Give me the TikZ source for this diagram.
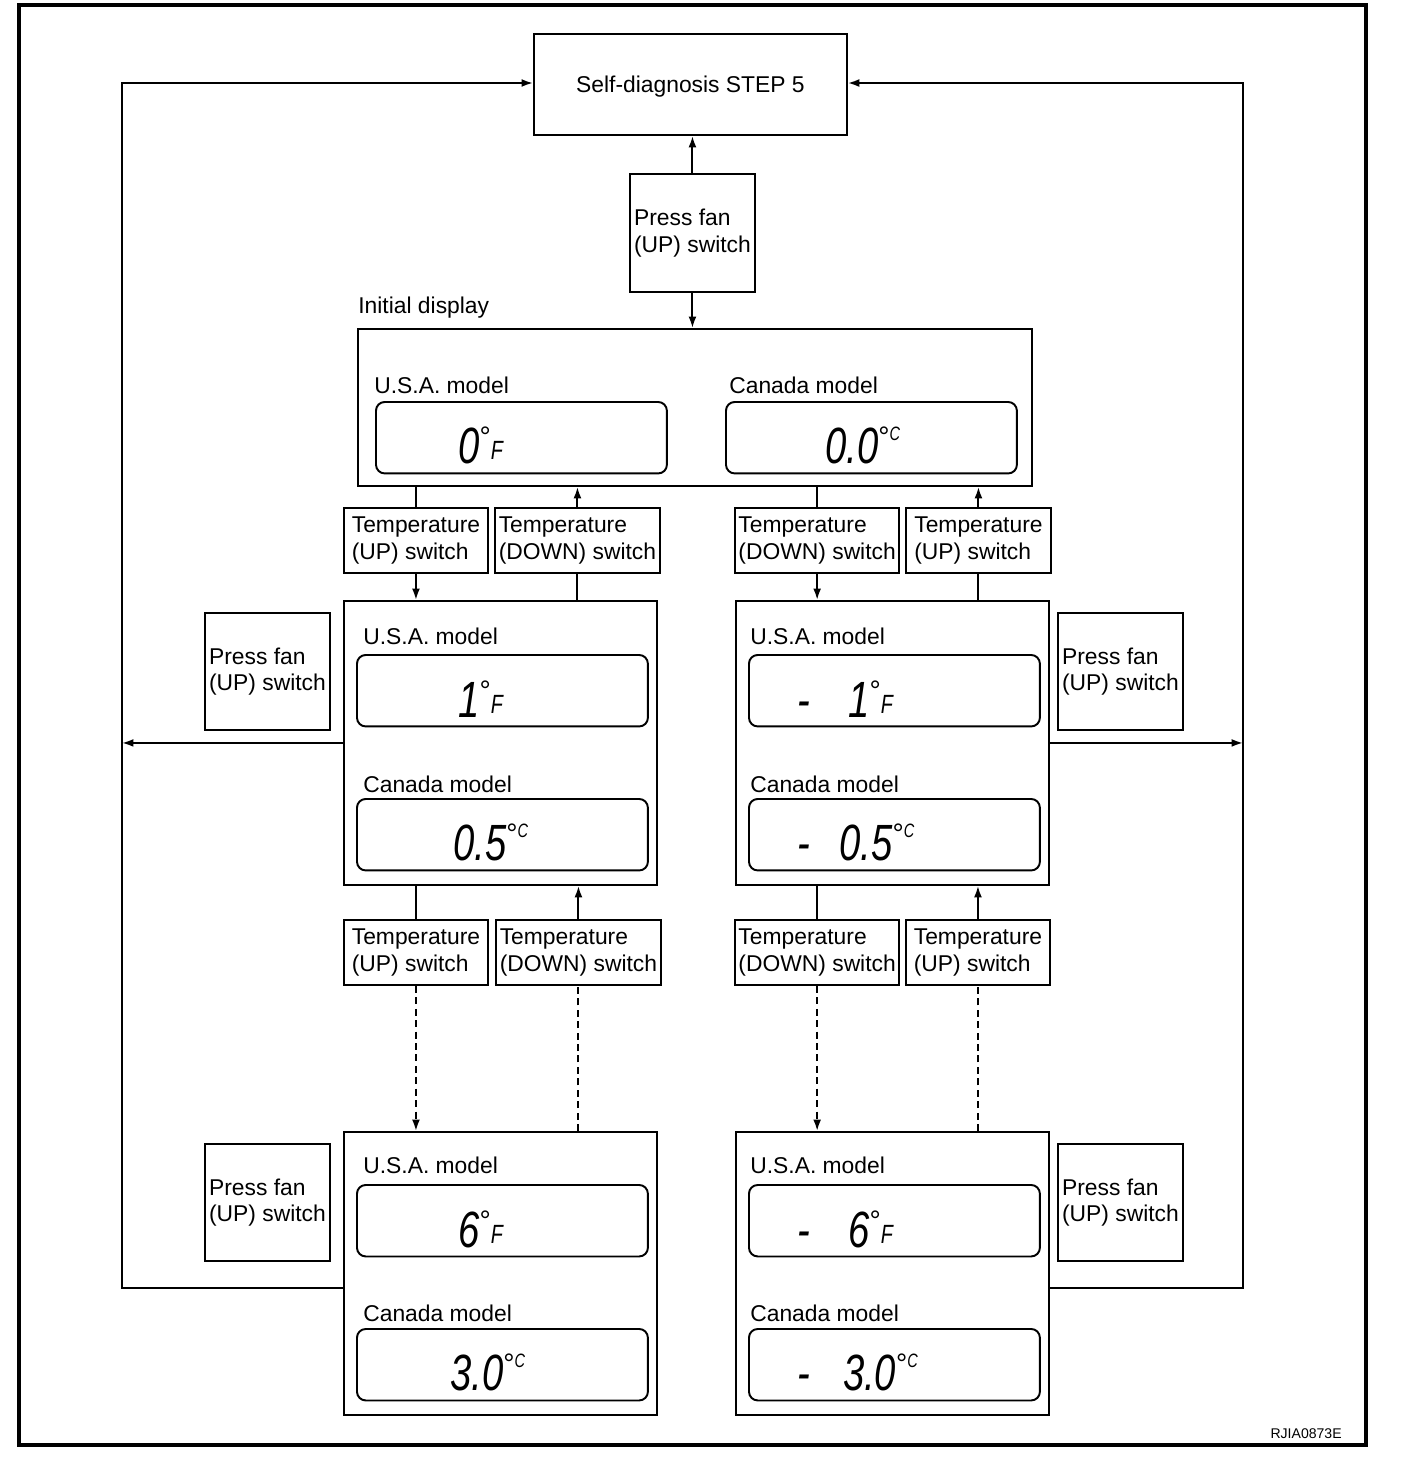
\documentclass[tikz,border=0pt]{standalone}
\usepackage{fontspec}
\setmainfont{Liberation Sans}
\newfontfamily\lcdfont{Liberation Sans}[FakeStretch=0.75]
\newfontfamily\degfont{Liberation Sans}
\usetikzlibrary{arrows.meta,calc,positioning}
\newcommand{\lcdnum}[1]{{\lcdfont\itshape\fontsize{29}{29}\selectfont #1}}
\newcommand{\unitF}{{\raisebox{9.5pt}{\degfont\fontsize{16}{16}\selectfont °}\lcdfont\itshape\raisebox{2pt}{\fontsize{15}{15}\selectfont F}}}
\newcommand{\unitC}{{\raisebox{9.5pt}{\degfont\fontsize{16}{16}\selectfont °}\lcdfont\itshape\raisebox{13pt}{\fontsize{11}{11}\selectfont C}}}
\newcommand{\minus}{\makebox[29pt][l]{\lcdnum{-}}}

\begin{document}
\begin{tikzpicture}[x=0.02cm,y=-0.02cm,
    box/.style={draw,line width=1.1pt,anchor=north west,align=left,inner sep=2pt,
      font=\fontsize{13}{15}\selectfont},
    swbox/.style={box,minimum height=1.3cm},
    fanbox/.style={box,minimum width=2.5cm,minimum height=2.34cm},
    panel/.style={draw,line width=1.1pt,anchor=north west},
    lcdbox/.style={draw,line width=1.1pt,rounded corners=5pt,anchor=north west,
      minimum width=5.82cm,minimum height=1.43cm},
    model/.style={anchor=base west,inner sep=0pt,font=\fontsize{13}{15}\selectfont},
    reading/.style={anchor=base west,inner sep=0pt},
    link/.style={line width=1.1pt},
    arr/.style={link,-{Latex[length=6.5pt,width=4.5pt]}},
    later/.style={dash pattern=on 4pt off 2.5pt}
  ]
  \useasboundingbox (0,0) rectangle (1408,1458);
  \draw[line width=2pt] (19,5) rectangle (1366,1445);

  % top of the loop
  \node[box,align=center,minimum width=6.26cm,minimum height=2.02cm,text depth=-3pt] (selfdiag) at (533,33) {Self-diagnosis STEP 5};
  \node[box,minimum width=2.5cm,minimum height=2.36cm] (fanTop) at (629,173) {Press fan\\(UP) switch};

  % initial display
  \node[model] (initLabel) at (358,313) {Initial display};
  \node[panel,minimum width=13.48cm,minimum height=3.14cm] (init) at (357,328) {};
  \node[model] (initUSlbl) at (374,393) {U.S.A. model};
  \node[lcdbox] (initUS) at (375,401) {};
  \node[reading] (initUSval) at (458,463) {\lcdnum{0}\unitF};
  \node[model] (initCAlbl) at (729,393) {Canada model};
  \node[lcdbox] (initCA) at (725,401) {};
  \node[reading] (initCAval) at (825,463) {\lcdnum{0.0}\unitC};

  % first switch row
  \node[swbox,minimum width=2.88cm] (upA) at (343,507) {Temperature\\(UP) switch};
  \node[swbox,minimum width=3.3cm] (downA) at (494,507) {Temperature\\(DOWN) switch};
  \node[swbox,minimum width=3.26cm] (downB) at (734,507) {Temperature\\(DOWN) switch};
  \node[swbox,minimum width=2.9cm] (upB) at (905,507) {Temperature\\(UP) switch};

  % one step away
  \node[panel,minimum width=6.26cm,minimum height=5.68cm] (midL) at (343,600) {};
  \node[model] (midLUSlbl) at (363,644) {U.S.A. model};
  \node[lcdbox] (midLUS) at (356,654) {};
  \node[reading] (midLUSval) at (458,717) {\lcdnum{1}\unitF};
  \node[model] (midLCAlbl) at (363,792) {Canada model};
  \node[lcdbox] (midLCA) at (356,798) {};
  \node[reading] (midLCAval) at (453,860) {\lcdnum{0.5}\unitC};

  \node[panel,minimum width=6.26cm,minimum height=5.68cm] (midR) at (735,600) {};
  \node[model] (midRUSlbl) at (750,644) {U.S.A. model};
  \node[lcdbox] (midRUS) at (748,654) {};
  \node[reading] (midRUSval) at (797,717) {\minus\lcdnum{1}\unitF};
  \node[model] (midRCAlbl) at (750,792) {Canada model};
  \node[lcdbox] (midRCA) at (748,798) {};
  \node[reading] (midRCAval) at (797,860) {\makebox[24pt][l]{\lcdnum{-}}\lcdnum{0.5}\unitC};

  \node[fanbox] (fanL1) at (204,612) {Press fan\\(UP) switch};
  \node[fanbox] (fanR1) at (1057,612) {Press fan\\(UP) switch};

  % second switch row
  \node[swbox,minimum width=2.88cm] (upC) at (343,919) {Temperature\\(UP) switch};
  \node[swbox,minimum width=3.3cm] (downC) at (495,919) {Temperature\\(DOWN) switch};
  \node[swbox,minimum width=3.26cm] (downD) at (734,919) {Temperature\\(DOWN) switch};
  \node[swbox,minimum width=2.88cm] (upD) at (905,919) {Temperature\\(UP) switch};

  % end of the range
  \node[panel,minimum width=6.26cm,minimum height=5.66cm] (botL) at (343,1131) {};
  \node[model] (botLUSlbl) at (363,1173) {U.S.A. model};
  \node[lcdbox] (botLUS) at (356,1184) {};
  \node[reading] (botLUSval) at (458,1247) {\lcdnum{6}\unitF};
  \node[model] (botLCAlbl) at (363,1321) {Canada model};
  \node[lcdbox] (botLCA) at (356,1328) {};
  \node[reading] (botLCAval) at (450,1390) {\lcdnum{3.0}\unitC};

  \node[panel,minimum width=6.26cm,minimum height=5.66cm] (botR) at (735,1131) {};
  \node[model] (botRUSlbl) at (750,1173) {U.S.A. model};
  \node[lcdbox] (botRUS) at (748,1184) {};
  \node[reading] (botRUSval) at (797,1247) {\minus\lcdnum{6}\unitF};
  \node[model] (botRCAlbl) at (750,1321) {Canada model};
  \node[lcdbox] (botRCA) at (748,1328) {};
  \node[reading] (botRCAval) at (797,1390) {\makebox[26pt][l]{\lcdnum{-}}\lcdnum{3.0}\unitC};

  \node[fanbox] (fanL2) at (204,1143) {Press fan\\(UP) switch};
  \node[fanbox] (fanR2) at (1057,1143) {Press fan\\(UP) switch};

  \node[anchor=east,inner sep=0pt,font=\fontsize{8}{8}\selectfont] (figid) at (1342,1434) {RJIA0873E};

  % return lines
  \coordinate (lTop) at (122,83);
  \coordinate (lBot) at (122,1288);
  \coordinate (rTop) at (1243,83);
  \coordinate (rBot) at (1243,1288);

  \draw[arr] (fanTop.north) -- (fanTop.north |- selfdiag.south);
  \draw[arr] (fanTop.south) -- (fanTop.south |- init.north);

  \draw[arr] (botL.west |- lBot) -- (lBot) -- (lTop) -- (selfdiag.west |- lTop);
  \draw[arr] (botR.east |- rBot) -- (rBot) -- (rTop) -- (selfdiag.east |- rTop);
  \draw[arr] (midL.west) -- (midL.west -| lBot);
  \draw[arr] (midR.east) -- (midR.east -| rBot);

  \draw[link] (upA.north |- init.south) -- (upA.north);
  \draw[arr] (upA.south) -- (upA.south |- midL.north);
  \draw[link] (downA.south |- midL.north) -- (downA.south);
  \draw[arr] (downA.north) -- (downA.north |- init.south);
  \draw[link] (downB.north |- init.south) -- (downB.north);
  \draw[arr] (downB.south) -- (downB.south |- midR.north);
  \draw[link] (upB.south |- midR.north) -- (upB.south);
  \draw[arr] (upB.north) -- (upB.north |- init.south);

  \draw[link] (upC.north |- midL.south) -- (upC.north);
  \draw[arr,later] (upC.south) -- (upC.south |- botL.north);
  \draw[link,later] (downC.south |- botL.north) -- (downC.south);
  \draw[arr] (downC.north) -- (downC.north |- midL.south);
  \draw[link] (downD.north |- midR.south) -- (downD.north);
  \draw[arr,later] (downD.south) -- (downD.south |- botR.north);
  \draw[link,later] (upD.south |- botR.north) -- (upD.south);
  \draw[arr] (upD.north) -- (upD.north |- midR.south);
\end{tikzpicture}
\end{document}
